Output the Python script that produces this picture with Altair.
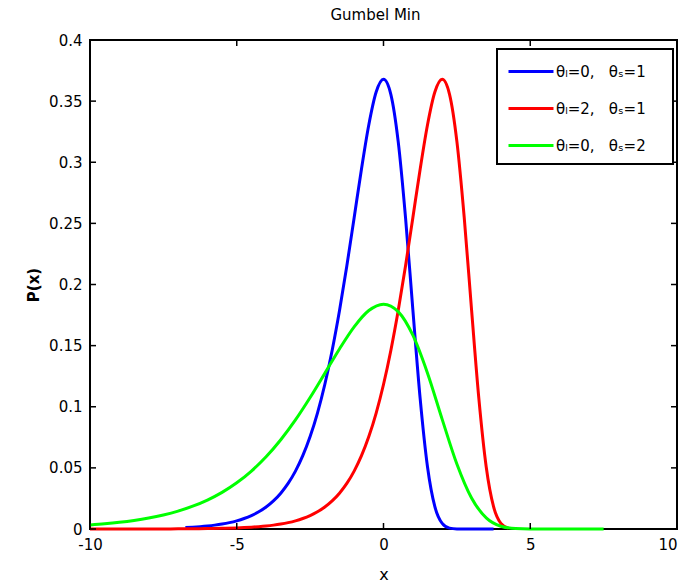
import altair as alt
import pandas as pd

# ---- data ----
series_labels = [
    "θₗ=0,\u00a0\u00a0\u00a0θₛ=1",
    "θₗ=2,\u00a0\u00a0\u00a0θₛ=1",
    "θₗ=0,\u00a0\u00a0\u00a0θₛ=2",
]
series_colors = ["#0000ff", "#ff0000", "#00ff00"]

x_blue = [-6.75, -6.5, -6.25, -6.0, -5.75, -5.5, -5.25, -5.0, -4.75, -4.5,
          -4.25, -4.0, -3.75, -3.5, -3.25, -3.0, -2.75, -2.5, -2.25, -2.0,
          -1.75, -1.5, -1.25, -1.0, -0.75, -0.5, -0.25, 0.0, 0.25, 0.5,
          0.75, 1.0, 1.25, 1.5, 1.75, 2.0, 2.25, 2.5, 2.75, 3.0,
          3.25, 3.5, 3.75]
y_blue = [0.00117, 0.00150, 0.00193, 0.00247, 0.00317, 0.00407, 0.00522, 0.00669, 0.00858, 0.01099,
          0.01406, 0.01798, 0.02297, 0.02930, 0.03730, 0.04737, 0.05997, 0.07562, 0.09486, 0.11821,
          0.14606, 0.17851, 0.21513, 0.25465, 0.29453, 0.33071, 0.35744, 0.36788, 0.35557, 0.31704,
          0.25487, 0.17937, 0.10642, 0.05071, 0.01823, 0.00457, 0.00072, 0.00006, 0.0, 0.0,
          0.0, 0.0, 0.0]

x_red = [-10.0, -9.5, -9.0, -8.5, -8.0, -7.5, -7.0, -6.5, -6.0, -5.5,
         -5.0, -4.75, -4.5, -4.25, -4.0, -3.75, -3.5, -3.25, -3.0, -2.75,
         -2.5, -2.25, -2.0, -1.75, -1.5, -1.25, -1.0, -0.75, -0.5, -0.25,
         0.0, 0.25, 0.5, 0.75, 1.0, 1.25, 1.5, 1.75, 2.0, 2.25,
         2.5, 2.75, 3.0, 3.25, 3.5, 3.75, 4.0, 4.25]
y_red = [0.000006, 0.00001, 0.000017, 0.000028, 0.000045, 0.000075, 0.000123, 0.000203, 0.000335, 0.000553,
         0.000911, 0.00117, 0.00150, 0.00193, 0.00247, 0.00317, 0.00407, 0.00522, 0.00669, 0.00858,
         0.01099, 0.01406, 0.01798, 0.02297, 0.02930, 0.03730, 0.04737, 0.05997, 0.07562, 0.09486,
         0.11821, 0.14606, 0.17851, 0.21513, 0.25465, 0.29453, 0.33071, 0.35744, 0.36788, 0.35557,
         0.31704, 0.25487, 0.17937, 0.10642, 0.05071, 0.01823, 0.00457, 0.00072]

x_green = [-10.0, -9.5, -9.0, -8.5, -8.0, -7.5, -7.0, -6.5, -6.0, -5.5,
           -5.0, -4.5, -4.0, -3.5, -3.0, -2.5, -2.0, -1.5, -1.0, -0.5,
           0.0, 0.5, 1.0, 1.5, 2.0, 2.5, 3.0, 3.5, 4.0, 4.5,
           5.0, 5.5, 6.0, 6.5, 7.0, 7.5]
y_green = [0.00335, 0.00429, 0.00549, 0.00703, 0.00899, 0.01149, 0.01465, 0.01865, 0.02369, 0.02999,
           0.03781, 0.04743, 0.05910, 0.07303, 0.08925, 0.10757, 0.12732, 0.14727, 0.16535, 0.17872,
           0.18394, 0.17779, 0.15853, 0.12744, 0.08969, 0.05320, 0.02535, 0.00912, 0.00228, 0.00036,
           0.00003, 0.0, 0.0, 0.0, 0.0, 0.0]

x_ticks = [-10, -5, 0, 5, 10]
y_ticks = [0, 0.05, 0.1, 0.15, 0.2, 0.25, 0.3, 0.35, 0.4]

# ---- tables ----
rows = []
for lab, xs_, ys_ in zip(series_labels, [x_blue, x_red, x_green], [y_blue, y_red, y_green]):
    for xv, yv in zip(xs_, ys_):
        rows.append({"series": lab, "x": xv, "y": yv})
df = pd.DataFrame(rows)
xt = pd.DataFrame({"x": x_ticks})
yt = pd.DataFrame({"y": y_ticks})

W, H = 587, 489
FONT = "DejaVu Sans"
xscale = alt.Scale(domain=[-10, 10], nice=False, zero=False)
yscale = alt.Scale(domain=[0, 0.4], nice=False, zero=False)
xaxis = alt.Axis(values=x_ticks, labelExpr="toString(datum.value)", title="x",
                 titleFontSize=16, titleFontWeight="normal", titlePadding=14,
                 labelFlush=False,
                 labelAlign=alt.ExprRef(expr="datum.value >= 10 ? 'right' : 'center'"))
yaxis = alt.Axis(values=y_ticks, format=".2~f", title="P(x)",
                 titleFontSize=15, titleFontWeight="bold", titlePadding=7,
                 labelFlush=False)

lines = alt.Chart(df).mark_line(strokeWidth=3, interpolate="monotone").encode(
    x=alt.X("x:Q", scale=xscale, axis=xaxis, title="x"),
    y=alt.Y("y:Q", scale=yscale, axis=yaxis, title="P(x)"),
    color=alt.Color("series:N", sort=series_labels,
                    scale=alt.Scale(domain=series_labels, range=series_colors),
                    legend=alt.Legend(title="__", titleOrient="right", titlePadding=0,
                                      titleOpacity=0, titleFontSize=15,
                                      orient="none", legendX=407, legendY=9,
                                      symbolType="M-1,0H3.09", symbolSize=484,
                                      symbolStrokeWidth=3, labelOffset=24, rowPadding=16,
                                      padding=10, fillColor="white", strokeColor="black",
                                      labelFont=FONT, labelFontSize=15, labelColor="black",
                                      labelLimit=400)),
)

tick_len = 6
bottom_ticks = alt.Chart(xt).mark_rule(color="black", strokeWidth=1.5).encode(
    x=alt.X("x:Q", scale=xscale, axis=xaxis, title="x"), y=alt.value(H), y2=alt.value(H - tick_len))
top_ticks = alt.Chart(xt).mark_rule(color="black", strokeWidth=1.5).encode(
    x=alt.X("x:Q", scale=xscale, axis=xaxis, title="x"), y=alt.value(0), y2=alt.value(tick_len))
left_ticks = alt.Chart(yt).mark_rule(color="black", strokeWidth=1.5).encode(
    y=alt.Y("y:Q", scale=yscale, axis=yaxis, title="P(x)"), x=alt.value(0), x2=alt.value(tick_len))
right_ticks = alt.Chart(yt).mark_rule(color="black", strokeWidth=1.5).encode(
    y=alt.Y("y:Q", scale=yscale, axis=yaxis, title="P(x)"), x=alt.value(W - tick_len), x2=alt.value(W))

chart = alt.layer(lines, bottom_ticks, top_ticks, left_ticks, right_ticks).properties(
    width=W, height=H,
    title=alt.TitleParams("Gumbel Min", font=FONT, fontSize=15, fontWeight="normal",
                          color="black", offset=10, dx=-8, anchor="middle"),
    autosize=alt.AutoSizeParams(type="none"),
    padding={"left": 90, "top": 40, "right": 6, "bottom": 53},
    background="white",
).configure_view(
    stroke="black", strokeWidth=2
).configure_axis(
    grid=False, ticks=False, domain=False,
    labelFont=FONT, labelFontSize=15, labelColor="black", labelPadding=8,
    titleFont=FONT, titleColor="black",
).configure_legend(
    strokeWidth=2
)

chart.save("out.html", embed_options={"renderer": "svg", "actions": False})
